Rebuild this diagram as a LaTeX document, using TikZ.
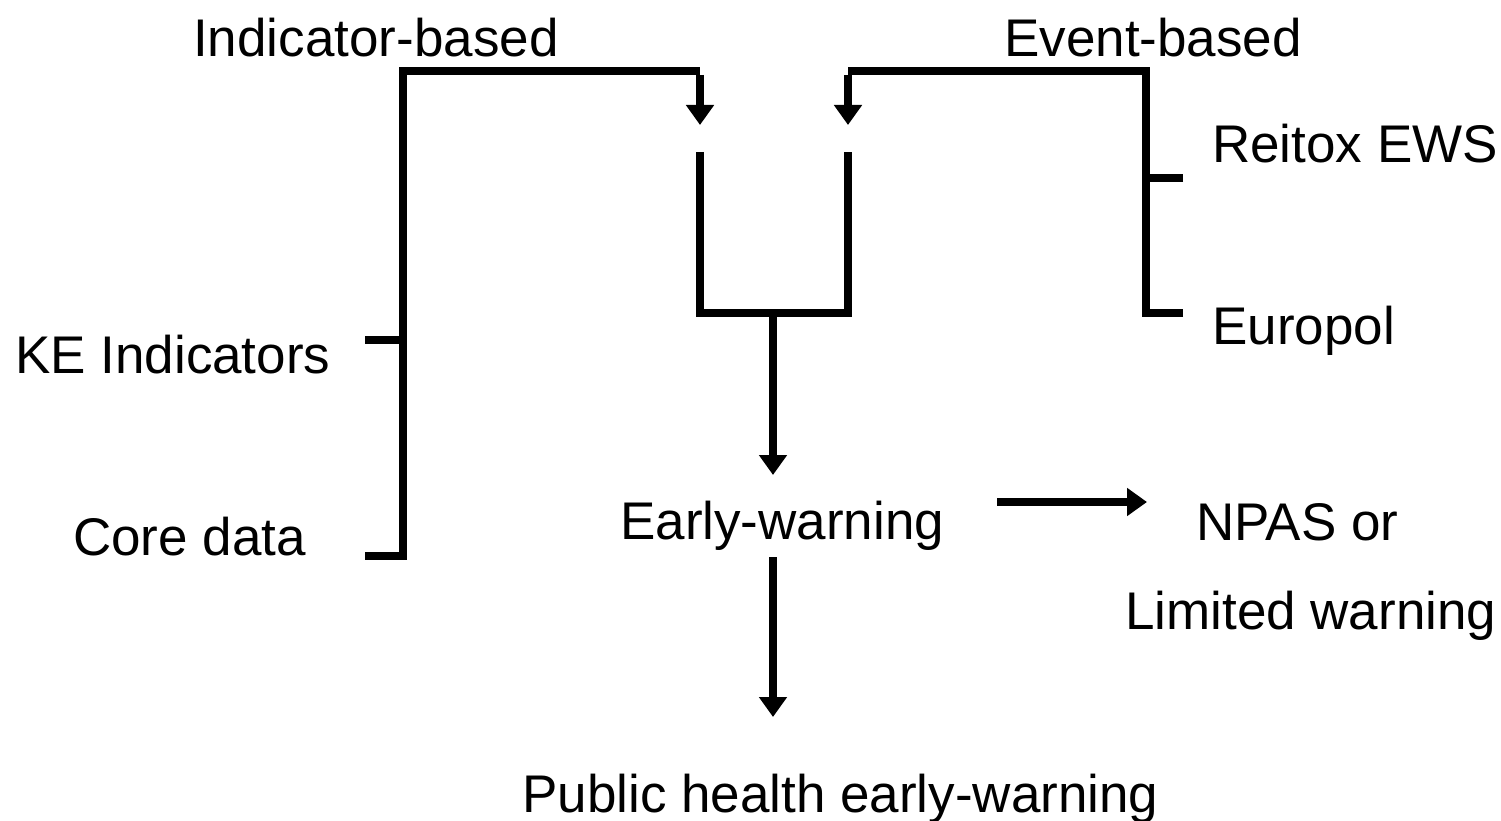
\documentclass[tikz,border=0pt]{standalone}
\usepackage{fontspec}
\setmainfont{Liberation Sans}
\usetikzlibrary{arrows.meta}
\begin{document}
\begin{tikzpicture}[x=1pt,y=-1pt,
  lbl/.style={anchor=base west,inner sep=0pt,font=\fontsize{53}{64}\selectfont},
  ln/.style={line width=8.5pt},
  arr/.style={line width=7.5pt,-{Triangle[width=27pt,length=20pt]}}]
\useasboundingbox (0,0) rectangle (1501,821);
% texts
\node[lbl] (ind) at (193,57) {Indicator-based};
\node[lbl] (evt) at (1004,57) {Event-based};
\node[lbl] (rei) at (1212,163) {Reitox EWS};
\node[lbl] (eur) at (1212,344) {Europol};
\node[lbl] (ke) at (15,373) {KE Indicators};
\node[lbl] (core) at (73,555) {Core data};
\node[lbl] (ew) at (620,539) {Early-warning};
\node[lbl] (npas) at (1196,540) {NPAS or};
\node[lbl] (lim) at (1125,629) {Limited warning};
\node[lbl] (pub) at (522,812) {Public health early-warning};
% coordinates
\coordinate (LT) at (403,71);
\coordinate (LB) at (403,556);
\coordinate (Lk) at (365,340);
\coordinate (Lkj) at (403,340);
\coordinate (Lc) at (365,556);
\coordinate (LA) at (700,71);
\coordinate (LAt) at (700,125);
\coordinate (RT) at (1146,71);
\coordinate (RB) at (1146,313);
\coordinate (RA) at (848,71);
\coordinate (RAt) at (848,125);
\coordinate (Rr) at (1183,178);
\coordinate (Rrj) at (1146,178);
\coordinate (Re) at (1183,313);
\coordinate (UL) at (700,152);
\coordinate (UR) at (848,152);
\coordinate (ULb) at (700,313);
\coordinate (URb) at (848,313);
\coordinate (Um) at (773,313);
\coordinate (EWt) at (773,475);
\coordinate (EWb) at (773,557);
\coordinate (PHt) at (773,717);
\coordinate (Ns) at (997,502);
\coordinate (Ne) at (1147,502);
% left bracket
\draw[ln] (Lc) -- (LB) -- (LT) -- (LA);
\draw[ln] (Lk) -- (Lkj);
\draw[arr] ([yshift=-4pt]LA) -- (LAt);
% right bracket
\draw[ln] (Re) -- (RB) -- (RT) -- (RA);
\draw[ln] (Rr) -- (Rrj);
\draw[arr] ([yshift=-4pt]RA) -- (RAt);
% U shape
\draw[ln] (UL) -- (ULb) -- (URb) -- (UR);
\draw[arr] (Um) -- (EWt);
\draw[arr] (EWb) -- (PHt);
\draw[arr] (Ns) -- (Ne);
\end{tikzpicture}
\end{document}
